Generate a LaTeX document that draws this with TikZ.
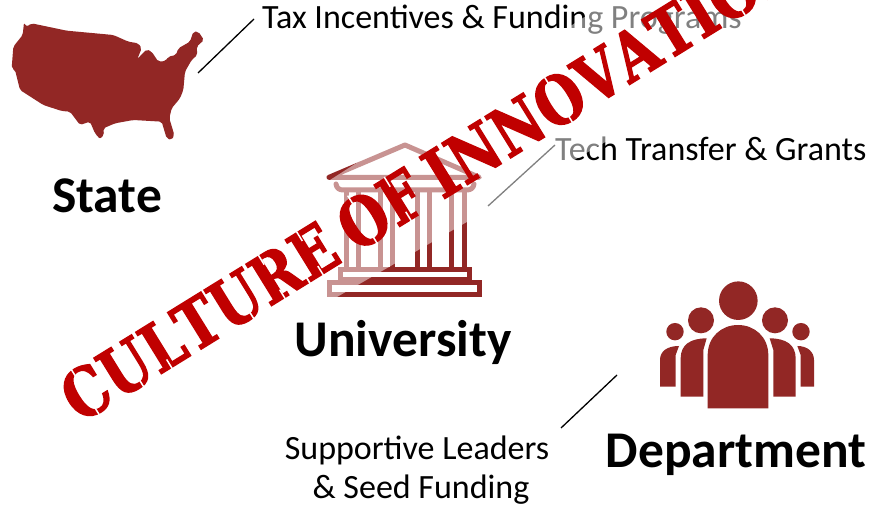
\documentclass[tikz,border=0pt]{standalone}
\usepackage{fontspec}
\setmainfont{Carlito}
\newfontfamily\stencilf[FakeBold=2,FakeStretch=0.9]{DejaVu Serif Condensed Bold}
\definecolor{brick}{HTML}{922725}
\definecolor{stamp}{HTML}{C00000}
\newcommand\slit[3]{\rlap{\kern#1\wd0\color{white}\vrule width 1.5pt height #3em depth -#2em}}
\newcommand\gl[2]{\setbox0\hbox{#1}\rlap{\copy0}#2\kern\wd0\kern.018em\relax}
\newcommand\bowlgaps{\slit{.47}{-.05}{.12}\slit{.47}{.6}{.8}}
\newcommand\stemgaps{\slit{.38}{-.02}{.14}\slit{.38}{.58}{.75}}
\newcommand\wgap{\kern.2em\relax}
\tikzset{
  head/.style={font=\fontsize{51.5}{56}\selectfont\bfseries,text=black,inner sep=0pt},
  note/.style={font=\fontsize{34}{38}\selectfont,text=black,inner sep=0pt},
  leader/.style={draw=black,line width=1.3pt},
  icon/.style={fill=brick,draw=none},
  rail/.style={draw=brick,line width=5pt,fill=none,line join=miter},
  railr/.style={draw=brick,line width=5pt,fill=none,line join=round,line cap=round}
}
\begin{document}
\begin{tikzpicture}[x=1pt,y=-1pt]
\useasboundingbox (0,0) rectangle (871,508);
\fill[white] (0,0) rectangle (871,508);
% map
\begin{scope}[x=1/3*1pt,y=-1/3*1pt]
\fill[icon,rounded corners=2pt] (72,68)--(80,80)--(95,70)--(200,92)--(340,105)--(385,125)--(415,130)--(425,145)--(412,177)--(440,148)--(455,155)--(475,185)--(497,183)--(505,170)--(528,165)--(535,145)--(570,125)--(580,95)--(595,95)--(612,120)--(590,140)--(592,165)--(575,180)--(555,215)--(550,270)--(540,295)--(515,325)--(508,355)--(523,405)--(515,420)--(500,415)--(485,365)--(400,360)--(345,370)--(310,385)--(312,405)--(300,417)--(285,400)--(270,365)--(240,375)--(210,335)--(185,333)--(130,315)--(60,270)--(45,210)--(35,205)--(40,140)--(68,105)--cycle;
\end{scope}
% temple
\begin{scope}[shift={(310,120)},x=1/3*1pt,y=-1/3*1pt]
\draw[railr] (285,75)--(508,172)--(57,172)--cycle;
\draw[railr] (78,192) .. controls (80,205) and (88,210) .. (100,210)--(470,210) .. controls (482,210) and (490,205) .. (492,192);
\foreach \a/\b in {109/144,212/247,322/358,424/462}{
  \draw[rail] (\a,212)--(\a,440) (\b,212)--(\b,440);
}
\draw[rail] (90,450) rectangle (477,478);
\draw[rail] (58,489) rectangle (507,523);
\fill[icon] (90,440) rectangle (477,452);
\end{scope}
% people
\begin{scope}[shift={(640,270)},x=1/3*1pt,y=-1/3*1pt]
\fill[icon] (295,92) circle[radius=19.3pt];
\fill[icon] (183,151) circle[radius=13pt] (405,151) circle[radius=13pt];
\fill[icon] (105,185) circle[radius=8.7pt] (483,185) circle[radius=8.7pt];
\fill[icon] (203,415)--(203,256) .. controls (203,200) and (245,165) .. (294,165) .. controls (343,165) and (385,200) .. (385,256)--(385,415)--cycle;
\fill[icon] (122,380)--(122,265) .. controls (122,225) and (150,205) .. (200,205)--(190,240)--(190,380)--cycle;
\fill[icon] (467,380)--(467,265) .. controls (467,225) and (439,205) .. (389,205)--(400,240)--(400,380)--cycle;
\fill[icon] (60,350)--(60,270) .. controls (60,245) and (80,228) .. (117,228)--(107,255)--(107,350)--cycle;
\fill[icon] (522,350)--(522,270) .. controls (522,245) and (502,228) .. (472,228)--(482,255)--(482,350)--cycle;
\end{scope}
% labels
\node[head] (state) at (107,196) {State};
\node[head] (univ) at (403,342) {University};
\node[head] (dept) at (736,455) {Department};
\node[note,anchor=west] (tax) at (262,20) {Tax Incentives \& Funding Programs};
\node[note,anchor=west] (tech) at (555,149) {Tech Transfer \& Grants};
\node[note] (lead) at (417,450) {Supportive Leaders};
\node[note] (seed) at (421,490) {\& Seed Funding};
% leaders
\coordinate (s1) at (254,19); \coordinate (s2) at (198,73);
\coordinate (t1) at (555,145); \coordinate (t2) at (488,206);
\coordinate (d1) at (617,375); \coordinate (d2) at (561,428);
\draw[leader] (s1)--(s2);
\draw[leader] (t1)--(t2);
\draw[leader] (d1)--(d2);
% translucent band
\fill[white,opacity=.5] (330,180)--(700,-57)--(950,-57)--(337,297)--(200,385)--(60,385)--cycle;
% stamp
\begin{scope}
\clip (0,0) rectangle (871,508);
\node[rotate=31.7,anchor=base west,inner sep=0pt,text=stamp,font=\fontsize{67}{70}\selectfont\stencilf] (stampt) at (80,424) {\gl{C}{\bowlgaps}\gl{U}{\slit{.6}{-.05}{.14}}\gl{L}{\slit{.36}{-.02}{.14}}\gl{T}{}\gl{U}{\slit{.6}{-.05}{.14}}\gl{R}{\stemgaps}\gl{E}{\stemgaps}\wgap\gl{O}{\bowlgaps}\gl{F}{\stemgaps}\wgap\gl{I}{}\gl{N}{}\gl{N}{}\gl{O}{\bowlgaps}\gl{V}{}\gl{A}{}\gl{T}{}\gl{I}{}\gl{O}{\bowlgaps}\gl{N}{}};
\end{scope}
\end{tikzpicture}
\end{document}
